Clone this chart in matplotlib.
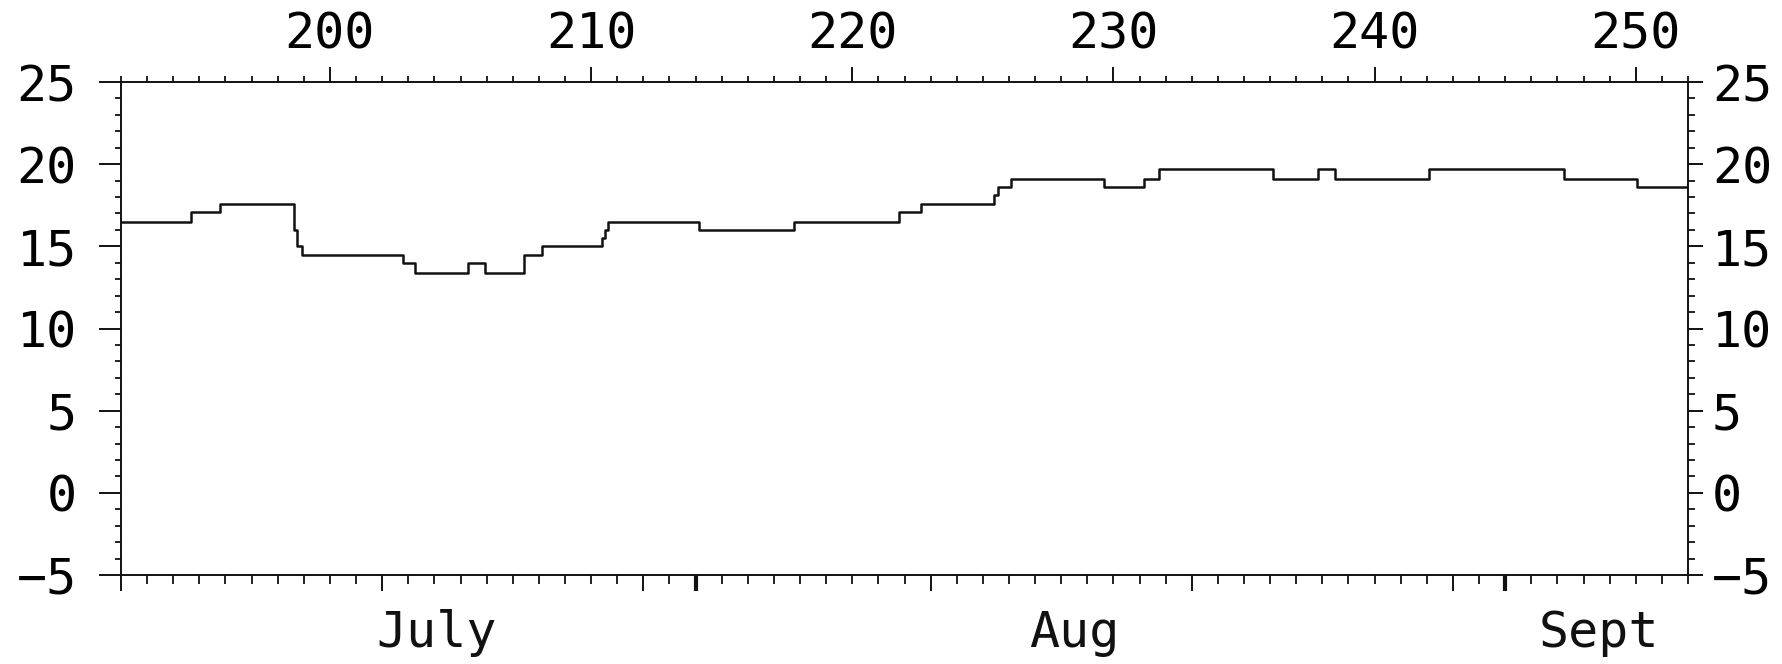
import matplotlib
matplotlib.use("Agg")
import matplotlib.pyplot as plt
from matplotlib.ticker import FixedLocator, MultipleLocator, NullFormatter
import matplotlib.transforms as mtransforms

# ---- data (day of year, step value) ----
step_days = [192.00, 194.67, 195.78, 198.62, 198.72, 198.94, 202.79, 203.25,
             205.30, 205.93, 207.44, 208.12, 210.43, 210.53, 210.65, 214.12,
             217.78, 221.80, 222.62, 225.44, 225.58, 226.09, 229.63, 231.16,
             231.76, 236.12, 237.82, 238.50, 242.08, 247.26, 250.06, 252.00]
step_values = [16.5, 17.1, 17.6, 16.0, 15.0, 14.5, 14.0, 13.4,
               14.0, 13.4, 14.5, 15.0, 15.5, 16.0, 16.5, 16.0,
               16.5, 17.1, 17.6, 18.1, 18.6, 19.1, 18.6, 19.1,
               19.7, 19.1, 19.7, 19.1, 19.7, 19.1, 18.6, 18.6]

day_ticks_top = [200, 210, 220, 230, 240, 250]
y_ticks = [-5, 0, 5, 10, 15, 20, 25]
decade_days = [192, 202, 212, 223, 233, 243]      # 10th, 20th, 30th of month
month_start_days = [214, 245]                      # Aug 1, Sept 1 (leap year)
month_labels = ["July", "Aug", "Sept"]
month_label_days = [204.1, 228.5, 248.6]

FONT = "DejaVu Sans Mono"
FS = 36

fig = plt.figure(figsize=(17.83, 6.64), dpi=100)
ax = fig.add_axes([121 / 1783, 1 - 575 / 664, (1688 - 121) / 1783, (575 - 82) / 664])

ax.step(step_days, step_values, where="post", color="#111111", lw=1.8)

ax.set_xlim(192, 252)
ax.set_ylim(-5, 25)
for s in ax.spines.values():
    s.set_linewidth(1.4)
    s.set_color("#111111")

# bottom axis: daily minor ticks, decade long ticks
ax.xaxis.set_major_locator(FixedLocator(decade_days))
ax.xaxis.set_minor_locator(MultipleLocator(1))
ax.xaxis.set_major_formatter(NullFormatter())
ax.tick_params(axis="x", which="major", direction="out", length=11.5, width=1.4, color="#111111")
ax.tick_params(axis="x", which="minor", direction="out", length=6.5, width=1.3, color="#111111")

# bold month-start ticks
sec = ax.secondary_xaxis("bottom")
sec.set_xticks(month_start_days)
sec.set_xticklabels([])
sec.spines["bottom"].set_visible(False)
sec.tick_params(axis="x", direction="out", length=11.5, width=3.0, color="#111111")

# left axis
ax.yaxis.set_major_locator(FixedLocator(y_ticks))
ax.yaxis.set_minor_locator(MultipleLocator(1))
ax.tick_params(axis="y", which="major", direction="out", length=15.8, width=1.4,
               pad=16, labelsize=FS, color="#111111")
ax.tick_params(axis="y", which="minor", direction="out", length=4.3, width=1.3, color="#111111")
ax.set_yticklabels([str(v).replace("-", "\u2212") for v in y_ticks], family=FONT, fontsize=FS)

# right axis
rax = ax.secondary_yaxis("right")
rax.yaxis.set_major_locator(FixedLocator(y_ticks))
rax.yaxis.set_minor_locator(MultipleLocator(1))
rax.set_yticklabels([str(v).replace("-", "\u2212") for v in y_ticks], family=FONT, fontsize=FS)
rax.tick_params(axis="y", which="major", direction="out", length=10.8, width=1.4, pad=6.5, color="#111111")
rax.tick_params(axis="y", which="minor", direction="out", length=5.0, width=1.3, color="#111111")
rax.spines["right"].set_visible(False)

# top axis (day of year)
tax = ax.secondary_xaxis("top")
tax.xaxis.set_major_locator(FixedLocator(day_ticks_top))
tax.xaxis.set_minor_locator(MultipleLocator(1))
tax.set_xticklabels([str(d) for d in day_ticks_top], family=FONT, fontsize=FS)
tax.tick_params(axis="x", which="major", direction="out", length=10.8, width=1.4, pad=6, color="#111111")
tax.tick_params(axis="x", which="minor", direction="out", length=4.5, width=1.3, color="#111111")
tax.spines["top"].set_visible(False)

# month labels
trans = mtransforms.blended_transform_factory(ax.transData, fig.transFigure)
for name, d in zip(month_labels, month_label_days):
    ax.text(d, 17 / 664, name, transform=trans, ha="center", va="baseline",
            family=FONT, fontsize=FS, color="#111111")

fig.savefig("out.png", dpi=100, facecolor="white")
